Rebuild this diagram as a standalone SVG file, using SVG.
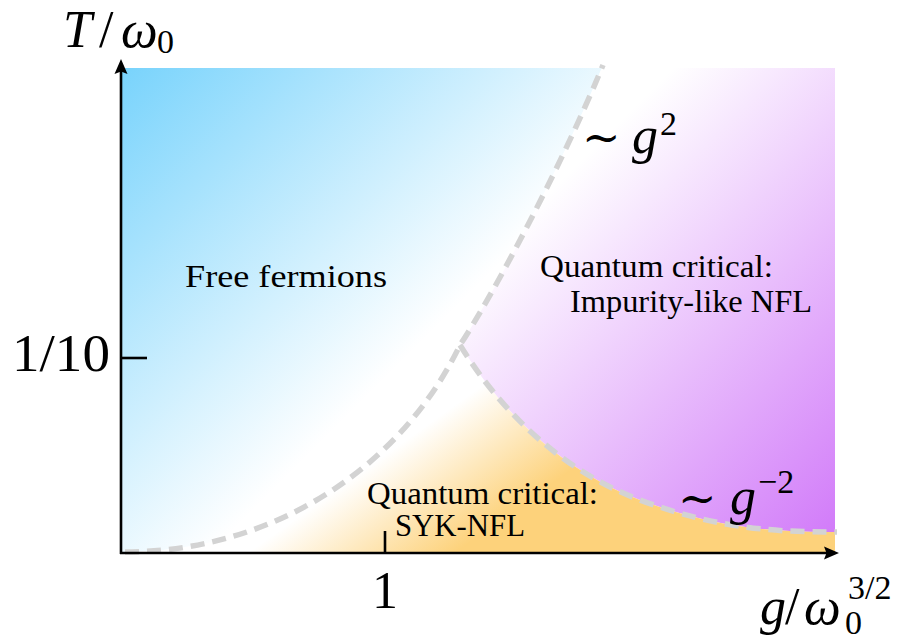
<svg xmlns="http://www.w3.org/2000/svg" width="907" height="643" viewBox="0 0 907 643">
<style>
text { font-family: "Liberation Serif", "Times New Roman", serif; fill: #000; }
.lbl { font-size: 31px; }
.math { font-size: 52px; }
.it { font-style: italic; }
.scr { font-size: 34px; }
.sym { font-family: "DejaVu Serif", "Liberation Serif", serif; }
.bound { fill: none; stroke: #d3d3d3; stroke-width: 5.5; stroke-dasharray: 14 8; }
.axis { stroke: #000; stroke-width: 2.6; fill: none; }
</style>
<defs>
<clipPath id="plot"><rect x="121" y="68" width="714" height="485"/></clipPath>
<linearGradient id="gBlue" gradientUnits="userSpaceOnUse" x1="121" y1="68" x2="408" y2="355">
<stop offset="0" stop-color="#78d3fc"/><stop offset="1" stop-color="#ffffff"/>
</linearGradient>
<linearGradient id="gPurple" gradientUnits="userSpaceOnUse" x1="397" y1="344" x2="708" y2="655">
<stop offset="0" stop-color="#ffffff"/><stop offset="1" stop-color="#d27cf9"/>
</linearGradient>
<linearGradient id="gOrange" gradientUnits="userSpaceOnUse" x1="245" y1="555" x2="315" y2="653">
<stop offset="0" stop-color="#ffffff"/><stop offset="1" stop-color="#fdd27b"/>
</linearGradient>
</defs>

<g id="region-free">
<path clip-path="url(#plot)" fill="url(#gBlue)" d="M603,65 C560,170 490,300 460,345 C400,470 270,552 125,552 L118,556 L118,60 L603,60 Z"/>
<text class="lbl" x="185" y="287" textLength="202" lengthAdjust="spacingAndGlyphs">Free fermions</text>
</g>

<g id="region-impurity">
<path clip-path="url(#plot)" fill="url(#gPurple)" d="M603,65 L603,60 L840,60 L840,532 L837,532 C780,532 720,530 640,500 C560,470 500,410 460,345 C490,300 560,170 603,65 Z"/>
<text class="lbl" x="540" y="277" textLength="233" lengthAdjust="spacingAndGlyphs">Quantum critical:</text>
<text class="lbl" x="570" y="312" textLength="242" lengthAdjust="spacingAndGlyphs">Impurity-like NFL</text>
</g>

<g id="region-syk">
<path clip-path="url(#plot)" fill="url(#gOrange)" d="M125,552 C270,552 400,470 460,345 C500,410 560,470 640,500 C720,530 780,532 837,532 L837,556 L118,556 Z"/>
<text class="lbl" x="367" y="504" textLength="231" lengthAdjust="spacingAndGlyphs">Quantum critical:</text>
<text class="lbl" x="395" y="536" textLength="130" lengthAdjust="spacingAndGlyphs">SYK-NFL</text>
</g>

<g id="connectors">
<path class="bound" d="M125,552 C270,552 400,470 460,345 C490,300 560,170 603,65"/>
<path class="bound" d="M460,345 C500,410 560,470 640,500 C720,530 780,532 837,532"/>
</g>

<g id="axes">
<line class="axis" x1="121" y1="554" x2="121" y2="70"/>
<path d="M121,59 L127.5,74 L121,71.5 L114.5,74 Z" fill="#000"/>
<line class="axis" x1="120" y1="553" x2="828" y2="553"/>
<path d="M839,553 L824,559.5 L826.5,553 L824,546.5 Z" fill="#000"/>
<line class="axis" x1="121" y1="358" x2="147" y2="358"/>
<line class="axis" x1="385" y1="531" x2="385" y2="553"/>
<text class="math" x="12" y="371" font-size="54" textLength="98" lengthAdjust="spacingAndGlyphs">1/10</text>
<text class="math" x="385" y="608" text-anchor="middle">1</text>
<text class="math" y="47"><tspan x="63" class="it">T</tspan><tspan x="99">/</tspan><tspan x="121" class="it">ω</tspan><tspan x="157" y="53" class="scr">0</tspan></text>
<text class="math" x="760" y="624"><tspan class="it">g</tspan><tspan x="785">/</tspan><tspan x="804" class="it">ω</tspan></text>
<text class="scr" x="845" y="634" font-size="30">0</text>
<text class="scr" x="848" y="599" font-size="32">3/2</text>
</g>

<g id="label-g2">
<text class="math" y="153"><tspan x="582" class="sym" font-size="46">∼</tspan><tspan x="632" class="it">g</tspan><tspan x="660" y="135" class="scr">2</tspan></text>
</g>
<g id="label-gm2">
<text class="math" y="514"><tspan x="678" class="sym" font-size="46">∼</tspan><tspan x="730" class="it">g</tspan><tspan x="758" y="493" class="scr" font-size="36">−2</tspan></text>
</g>
</svg>
